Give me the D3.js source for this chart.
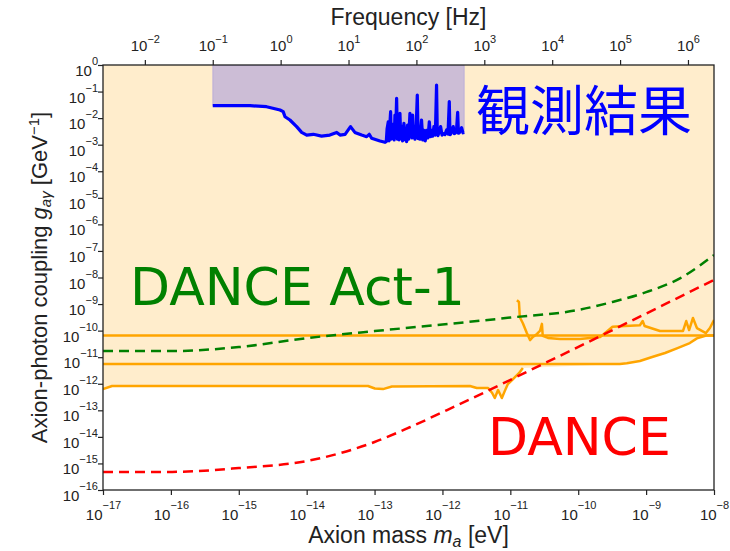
<!DOCTYPE html>
<html>
<head>
<meta charset="utf-8">
<script src="https://cdn.jsdelivr.net/npm/d3@7"></script>
<style>
body { margin: 0; background: #fff; }
</style>
</head>
<body>
<div id="chart"></div>
<script>
// tick values
let massTicks = [1e-17, 1e-16, 1e-15, 1e-14, 1e-13, 1e-12, 1e-11, 1e-10, 1e-9, 1e-8];
let couplingTicks = [1e0, 1e-1, 1e-2, 1e-3, 1e-4, 1e-5, 1e-6, 1e-7, 1e-8, 1e-9, 1e-10, 1e-11, 1e-12, 1e-13, 1e-14, 1e-15, 1e-16];
let freqTicks = [1e-2, 1e-1, 1e0, 1e1, 1e2, 1e3, 1e4, 1e5, 1e6];
let hEv = 4.1357e-15; // eV*s, mass -> frequency

// [mass eV, coupling GeV^-1]
let castLine = [[1e-17, 6.6e-11], [1e-8, 6.6e-11]];
let midLine = [[1e-17, 5.5e-12], [4.1e-10, 5.5e-12], [5.2e-10, 5.9e-12], [8.1e-10, 7.2e-12], [1.26e-9, 1.04e-11],
    [1.9e-9, 1.44e-11], [2.84e-9, 2.15e-11], [4.4e-9, 3.4e-11], [5.6e-9, 5.1e-11], [7.9e-9, 6.6e-11], [1e-8, 6.6e-11]];
let lowLine = [[1e-17, 6.3e-13], [1.36e-17, 8.2e-13], [2.7e-16, 8.2e-13], [8e-15, 8.2e-13], [8e-14, 8.2e-13],
    [1.01e-13, 6.6e-13], [1.33e-13, 6.3e-13], [1.8e-13, 7.9e-13], [2.54e-12, 8.2e-13], [3.2e-12, 6.9e-13],
    [4.7e-12, 6.9e-13], [5.4e-12, 4.5e-13], [5.9e-12, 2.9e-13], [6.6e-12, 5.8e-13], [7.5e-12, 2.9e-13],
    [8.3e-12, 5.4e-13], [9.2e-12, 9.8e-13], [1.06e-11, 1.38e-12], [1.21e-11, 1.95e-12], [1.34e-11, 2.5e-12],
    [1.53e-11, 3.9e-12]];
let highLine = [[1.25e-11, 1.4e-9], [1.34e-11, 1.2e-9], [1.38e-11, 3.2e-10], [1.53e-11, 1.9e-10], [1.75e-11, 8.1e-11],
    [1.95e-11, 4.4e-11], [2.15e-11, 5.8e-11], [2.47e-11, 7.5e-11], [2.73e-11, 9.7e-11], [2.92e-11, 1.8e-10],
    [3.0e-11, 6.3e-11], [3.58e-11, 5.3e-11], [5.4e-11, 4.8e-11], [1.06e-10, 4.8e-11], [2.1e-10, 5.7e-11],
    [3.2e-10, 1.4e-10], [4.9e-10, 1.5e-10], [8.1e-10, 1.6e-10], [8.9e-10, 2.3e-10], [9.5e-10, 1.5e-10],
    [1.6e-9, 9.7e-11], [3.5e-9, 9.7e-11], [3.9e-9, 2.3e-10], [4.3e-9, 1.05e-10], [4.9e-9, 3e-10],
    [5.6e-9, 1.25e-10], [7.6e-9, 8.1e-11], [8.7e-9, 1.25e-10], [1e-8, 2.5e-10]];
let danceAct1 = [[1e-17, 1.7e-11], [1e-16, 1.7e-11], [1e-15, 2.4e-11], [1e-14, 5.2e-11], [1e-13, 9.6e-11],
    [1e-12, 1.7e-10], [1e-11, 3.1e-10], [1e-10, 6e-10], [3.2e-10, 1.2e-9], [1e-9, 2.8e-9], [3.2e-9, 9.5e-9], [1e-8, 7e-8]];
let dance = [[1e-17, 4.8e-16], [1e-16, 4.8e-16], [1e-15, 6.7e-16], [1e-14, 1.23e-15], [1e-13, 6.4e-15],
    [3.3e-13, 2.3e-14], [1.17e-12, 1.02e-13], [3.5e-11, 6.6e-12], [1e-8, 8.1e-9]];

// [frequency Hz, coupling GeV^-1]
let observed = [[0.1, 2.94e-2], [0.354, 2.94e-2], [0.62, 2.69e-2], [0.98, 2.02e-2], [1.09, 1.75e-2], [1.16, 1.13e-2],
    [1.37, 8.5e-3], [1.72, 4.8e-3], [2.04, 2.9e-3], [2.42, 2.3e-3], [3.03, 2.46e-3], [4.0, 2.1e-3], [5.3, 2.3e-3],
    [6.7, 2.9e-3], [7.5, 2.3e-3], [8.9, 2.46e-3], [10.7, 4.8e-3], [12.4, 2.9e-3], [15.6, 2.3e-3], [18.5, 2.0e-3],
    [20.2, 2.46e-3], [21.9, 1.74e-3], [29.1, 1.37e-3], [34.4, 1.23e-3],
    [36, 1.3e-3], [37, 4e-3], [38.5, 7.3e-3], [39.5, 1.4e-3], [40.5, 5e-3], [41.7, 1.75e-2], [42.5, 1.6e-3],
    [43.5, 4.5e-3], [44.6, 2.0e-3], [46, 6e-3], [47, 1.5e-3], [48.3, 1.31e-2], [49.5, 2.5e-3], [51.1, 5.6e-2],
    [52.5, 1.6e-3], [54.1, 4e-3], [55.5, 1.5e-3], [57.2, 1.51e-2], [58.8, 1.7e-3], [60.6, 5e-3], [62.5, 1.4e-3],
    [65.5, 6.4e-3], [68, 1.5e-3], [70, 4e-3], [71.8, 1.3e-3], [74, 5.5e-3], [77, 1.6e-3], [80.3, 1.51e-2],
    [82, 2.5e-3], [84, 6e-3], [86, 1.8e-3], [87.9, 1.31e-2], [90, 2.2e-3], [92.5, 5e-3], [95.2, 1.6e-3],
    [99, 4e-3], [103, 7.4e-2], [106, 1.7e-3], [109, 3.5e-3], [113, 1.6e-3], [119, 8.5e-3], [124, 1.5e-3],
    [129, 3.5e-3], [135, 1.4e-3], [141, 3.5e-3], [148, 1.8e-3], [155, 7.3e-3], [161, 2e-3], [167, 3.5e-3],
    [174, 2.1e-3], [181, 4.8e-3], [190, 2.3e-3], [198, 0.177], [203, 2.5e-3], [208, 2.2e-3], [217, 3.2e-3],
    [227, 4.8e-3], [238, 2.3e-3], [249, 2.6e-3], [263, 2.4e-3], [279, 3.6e-3], [292, 2.5e-3], [305, 4.2e-2],
    [312, 2.4e-3], [319, 2.5e-3], [334, 3.5e-3], [349, 4.8e-3], [360, 2.6e-3], [370, 2.7e-3], [388, 3e-3],
    [405, 1.65e-2], [416, 2.7e-3], [428, 2.8e-3], [445, 3.5e-3], [463, 4.4e-3], [485, 2.8e-3], [507, 2.9e-3]];

let width = 730, height = 551;
let margin = {left: 103, right: 714, top: 65, bottom: 490};
let axisFont = "'Liberation Sans', Arial, sans-serif";

let svg = d3.select("#chart").append("svg")
    .attr("width", width)
    .attr("height", height);

let x = d3.scaleLog().domain([1e-17, 1e-8]).range([margin.left, margin.right]);
let xf = d3.scaleLog().domain([1e-17 / hEv, 1e-8 / hEv]).range([margin.left, margin.right]);
let y = d3.scaleLog().domain([1e-16, 1]).range([margin.bottom, margin.top]);

svg.append("clipPath").attr("id", "plot")
    .append("rect")
    .attr("x", margin.left).attr("y", margin.top)
    .attr("width", margin.right - margin.left).attr("height", margin.bottom - margin.top);

let g = svg.append("g").attr("clip-path", "url(#plot)");

// excluded region (orange) down to the lowest orange bound
let edge = lowLine.concat(midLine.filter(function (d) { return d[0] > lowLine[lowLine.length - 1][0]; }));
g.append("path")
    .datum(edge)
    .attr("fill", "rgba(255,165,0,0.2)")
    .attr("d", d3.area()
        .x(function (d) { return x(d[0]); })
        .y0(y(1))
        .y1(function (d) { return y(d[1]); }));

// observed region (blue shade)
g.append("path")
    .datum(observed)
    .attr("fill", "rgba(0,0,255,0.2)")
    .attr("stroke", "rgba(0,0,255,0.15)")
    .attr("d", d3.area()
        .x(function (d) { return xf(d[0]); })
        .y0(y(1))
        .y1(function (d) { return y(d[1]); }));

let massLine = d3.line()
    .x(function (d) { return x(d[0]); })
    .y(function (d) { return y(d[1]); });

[castLine, midLine, lowLine, highLine].forEach(function (d) {
    g.append("path")
        .datum(d)
        .attr("fill", "none")
        .attr("stroke", "orange")
        .attr("stroke-width", 2.5)
        .attr("stroke-linejoin", "round")
        .attr("d", massLine);
});

g.append("path")
    .datum(observed)
    .attr("fill", "none")
    .attr("stroke", "blue")
    .attr("stroke-width", 3.2)
    .attr("stroke-linejoin", "round")
    .attr("d", d3.line()
        .x(function (d) { return xf(d[0]); })
        .y(function (d) { return y(d[1]); }));

let smooth = d3.line()
    .curve(d3.curveMonotoneX)
    .x(function (d) { return x(d[0]); })
    .y(function (d) { return y(d[1]); });

g.append("path")
    .datum(danceAct1)
    .attr("fill", "none")
    .attr("stroke", "green")
    .attr("stroke-width", 2.5)
    .attr("stroke-dasharray", "10,6")
    .attr("d", smooth);

g.append("path")
    .datum(dance)
    .attr("fill", "none")
    .attr("stroke", "red")
    .attr("stroke-width", 2.5)
    .attr("stroke-dasharray", "10,6")
    .attr("d", smooth);

// power-of-ten tick labels
function powLabel(text, v, rise, small) {
    let e = Math.round(Math.log10(v));
    text.append("tspan").text("10");
    text.append("tspan")
        .attr("dy", -rise)
        .attr("font-size", small)
        .text(e < 0 ? "\u2212" + (-e) : e);
}

let xAxis = svg.append("g")
    .attr("transform", "translate(0," + margin.bottom + ")")
    .call(d3.axisBottom(x).tickValues(massTicks).tickSize(5).tickSizeOuter(0).tickFormat(""));
xAxis.selectAll(".tick text").remove();
xAxis.selectAll(".tick").append("text")
    .attr("y", 30)
    .attr("fill", "#222")
    .attr("font-family", axisFont)
    .attr("font-size", 15)
    .attr("text-anchor", "middle")
    .each(function (d) { powLabel(d3.select(this), d, 11, 11); });

let yAxis = svg.append("g")
    .attr("transform", "translate(" + margin.left + ",0)")
    .call(d3.axisLeft(y).tickValues(couplingTicks).tickSize(5).tickSizeOuter(0).tickFormat(""));
yAxis.selectAll(".tick text").remove();
yAxis.selectAll(".tick").append("text")
    .attr("x", -5)
    .attr("y", 10.5)
    .attr("fill", "#222")
    .attr("font-family", axisFont)
    .attr("font-size", 15)
    .attr("text-anchor", "end")
    .each(function (d) { powLabel(d3.select(this), d, 11, 11); });

let fAxis = svg.append("g")
    .attr("transform", "translate(0," + margin.top + ")")
    .call(d3.axisTop(xf).tickValues(freqTicks).tickSize(5).tickSizeOuter(0).tickFormat(""));
fAxis.selectAll(".tick text").remove();
fAxis.selectAll(".tick").append("text")
    .attr("y", -14)
    .attr("fill", "#222")
    .attr("font-family", axisFont)
    .attr("font-size", 15)
    .attr("text-anchor", "middle")
    .each(function (d) { powLabel(d3.select(this), d, 8, 11); });

svg.selectAll(".domain").remove();
svg.selectAll(".tick line").attr("stroke", "#222").attr("stroke-width", 1.2);

svg.append("rect")
    .attr("x", margin.left).attr("y", margin.top)
    .attr("width", margin.right - margin.left).attr("height", margin.bottom - margin.top)
    .attr("fill", "none")
    .attr("stroke", "#222")
    .attr("stroke-width", 1.3);

// axis titles
svg.append("text")
    .attr("x", (margin.left + margin.right) / 2).attr("y", 25)
    .attr("font-family", axisFont).attr("font-size", 23)
    .attr("fill", "#222").attr("text-anchor", "middle")
    .text("Frequency [Hz]");

let xt = svg.append("text")
    .attr("x", (margin.left + margin.right) / 2).attr("y", 543)
    .attr("font-family", axisFont).attr("font-size", 23)
    .attr("fill", "#222").attr("text-anchor", "middle");
xt.append("tspan").text("Axion mass ");
xt.append("tspan").attr("font-style", "italic").text("m");
xt.append("tspan").attr("font-style", "italic").attr("font-size", 16).attr("dy", 4).text("a");
xt.append("tspan").attr("dy", -4).text(" [eV]");

let yt = svg.append("text")
    .attr("transform", "translate(47," + (margin.top + margin.bottom) / 2 + ") rotate(-90)")
    .attr("font-family", axisFont).attr("font-size", 22)
    .attr("fill", "#222").attr("text-anchor", "middle");
yt.append("tspan").text("Axion-photon coupling ");
yt.append("tspan").attr("font-style", "italic").text("g");
yt.append("tspan").attr("font-style", "italic").attr("font-size", 15).attr("dy", 4).text("a\u03b3");
yt.append("tspan").attr("dy", -4).text(" [GeV");
yt.append("tspan").attr("font-size", 15).attr("dy", -8).text("\u22121");
yt.append("tspan").attr("dy", 8).text("]");

// annotations
svg.append("text")
    .attr("x", 476).attr("y", 131)
    .attr("font-family", "'Noto Sans CJK JP', sans-serif")
    .attr("font-size", 54)
    .attr("fill", "#0000ff")
    .text("観測結果");

svg.append("text")
    .attr("x", 130).attr("y", 305)
    .attr("font-family", "'DejaVu Sans', Verdana, sans-serif")
    .attr("font-size", 52)
    .attr("fill", "#008000")
    .text("DANCE Act-1");

svg.append("text")
    .attr("x", 488).attr("y", 455)
    .attr("font-family", "'DejaVu Sans', Verdana, sans-serif")
    .attr("font-size", 52)
    .attr("fill", "#ff0000")
    .text("DANCE");
</script>
</body>
</html>
